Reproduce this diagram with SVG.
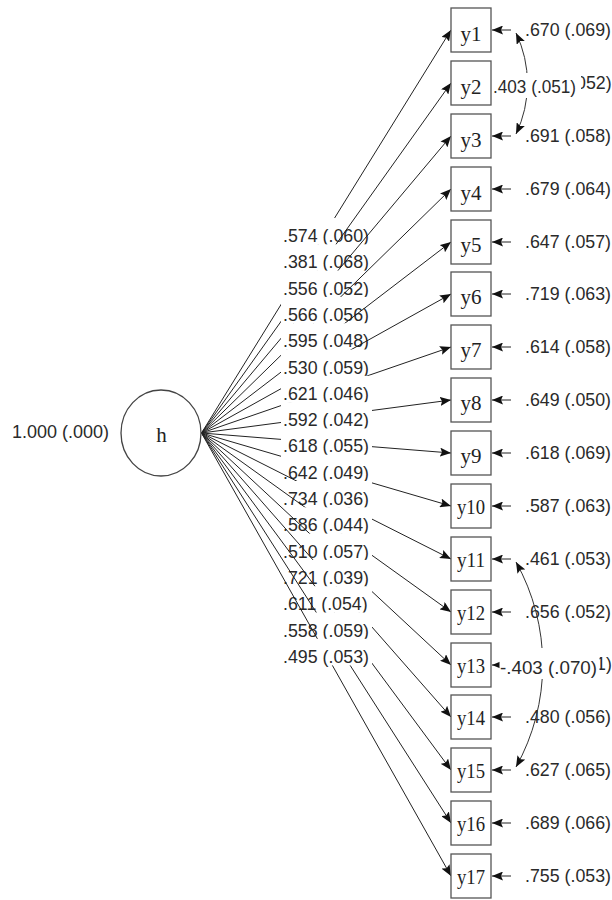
<svg xmlns="http://www.w3.org/2000/svg" width="612" height="900" viewBox="0 0 612 900">
<defs>
<marker id="ah" markerUnits="userSpaceOnUse" markerWidth="11" markerHeight="9" refX="11" refY="4.5" orient="auto-start-reverse" viewBox="0 0 11 9">
<path d="M0,0 L11,4.5 L0,9 L2,4.5 z" fill="#111"/>
</marker>
</defs>
<style>
.ln{stroke:#222;stroke-width:1;fill:none;marker-end:url(#ah)}
.arc{stroke:#333;stroke-width:1;fill:none;marker-start:url(#ah);marker-end:url(#ah)}
.bg{fill:#fff}
.num{font-family:"Liberation Sans",Arial,sans-serif;font-size:17.8px;fill:#2a2a2a}
.box{fill:#fff;stroke:#555;stroke-width:1.3}
.lab{font-family:"Liberation Serif","Times New Roman",serif;font-size:21px;fill:#222;text-anchor:middle}
</style>
<rect width="612" height="900" fill="#fff"/>
<g id="connectors">
<g id="loadings">
<g><line class="ln" x1="201.5" y1="433" x2="451" y2="30"/><rect class="bg" x="281" y="218" width="91" height="26.6"/><text class="num" x="283" y="242">.574 (.060)</text></g>
<g><line class="ln" x1="201.5" y1="433" x2="451" y2="83"/><rect class="bg" x="281" y="244.3" width="91" height="26.6"/><text class="num" x="283" y="268.3">.381 (.068)</text></g>
<g><line class="ln" x1="201.5" y1="433" x2="451" y2="136"/><rect class="bg" x="281" y="270.6" width="91" height="26.6"/><text class="num" x="283" y="294.6">.556 (.052)</text></g>
<g><line class="ln" x1="201.5" y1="433" x2="451" y2="189"/><rect class="bg" x="281" y="296.9" width="91" height="26.6"/><text class="num" x="283" y="320.9">.566 (.056)</text></g>
<g><line class="ln" x1="201.5" y1="433" x2="451" y2="242"/><rect class="bg" x="281" y="323.2" width="91" height="26.6"/><text class="num" x="283" y="347.2">.595 (.048)</text></g>
<g><line class="ln" x1="201.5" y1="433" x2="451" y2="294"/><rect class="bg" x="281" y="349.5" width="91" height="26.6"/><text class="num" x="283" y="373.5">.530 (.059)</text></g>
<g><line class="ln" x1="201.5" y1="433" x2="451" y2="347"/><rect class="bg" x="281" y="375.8" width="91" height="26.6"/><text class="num" x="283" y="399.8">.621 (.046)</text></g>
<g><line class="ln" x1="201.5" y1="433" x2="451" y2="400"/><rect class="bg" x="281" y="402.1" width="91" height="26.6"/><text class="num" x="283" y="426.1">.592 (.042)</text></g>
<g><line class="ln" x1="201.5" y1="433" x2="451" y2="453"/><rect class="bg" x="281" y="428.4" width="91" height="26.6"/><text class="num" x="283" y="452.4">.618 (.055)</text></g>
<g><line class="ln" x1="201.5" y1="433" x2="451" y2="506"/><rect class="bg" x="281" y="454.7" width="91" height="26.6"/><text class="num" x="283" y="478.7">.642 (.049)</text></g>
<g><line class="ln" x1="201.5" y1="433" x2="451" y2="559"/><rect class="bg" x="281" y="481" width="91" height="26.6"/><text class="num" x="283" y="505">.734 (.036)</text></g>
<g><line class="ln" x1="201.5" y1="433" x2="451" y2="612"/><rect class="bg" x="281" y="507.3" width="91" height="26.6"/><text class="num" x="283" y="531.3">.586 (.044)</text></g>
<g><line class="ln" x1="201.5" y1="433" x2="451" y2="665"/><rect class="bg" x="281" y="533.6" width="91" height="26.6"/><text class="num" x="283" y="557.6">.510 (.057)</text></g>
<g><line class="ln" x1="201.5" y1="433" x2="451" y2="717"/><rect class="bg" x="281" y="559.9" width="91" height="26.6"/><text class="num" x="283" y="583.9">.721 (.039)</text></g>
<g><line class="ln" x1="201.5" y1="433" x2="451" y2="770"/><rect class="bg" x="281" y="586.2" width="91" height="26.6"/><text class="num" x="283" y="610.2">.611 (.054)</text></g>
<g><line class="ln" x1="201.5" y1="433" x2="451" y2="823"/><rect class="bg" x="281" y="612.5" width="91" height="26.6"/><text class="num" x="283" y="636.5">.558 (.059)</text></g>
<g><line class="ln" x1="201.5" y1="433" x2="451" y2="876"/><rect class="bg" x="281" y="638.8" width="91" height="26.6"/><text class="num" x="283" y="662.8">.495 (.053)</text></g>
</g>
<g id="residuals">
<line class="ln" x1="511" y1="30" x2="492" y2="30"/>
<line class="ln" x1="511" y1="83" x2="492" y2="83"/>
<line class="ln" x1="511" y1="136" x2="492" y2="136"/>
<line class="ln" x1="511" y1="189" x2="492" y2="189"/>
<line class="ln" x1="511" y1="242" x2="492" y2="242"/>
<line class="ln" x1="511" y1="294" x2="492" y2="294"/>
<line class="ln" x1="511" y1="347" x2="492" y2="347"/>
<line class="ln" x1="511" y1="400" x2="492" y2="400"/>
<line class="ln" x1="511" y1="453" x2="492" y2="453"/>
<line class="ln" x1="511" y1="506" x2="492" y2="506"/>
<line class="ln" x1="511" y1="559" x2="492" y2="559"/>
<line class="ln" x1="511" y1="612" x2="492" y2="612"/>
<line class="ln" x1="511" y1="665" x2="492" y2="665"/>
<line class="ln" x1="511" y1="717" x2="492" y2="717"/>
<line class="ln" x1="511" y1="770" x2="492" y2="770"/>
<line class="ln" x1="511" y1="823" x2="492" y2="823"/>
<line class="ln" x1="511" y1="876" x2="492" y2="876"/>
<text class="num" x="525" y="36">.670 (.069)</text>
<text class="num" x="576" y="89">052)</text>
<text class="num" x="525" y="142">.691 (.058)</text>
<text class="num" x="525" y="195">.679 (.064)</text>
<text class="num" x="525" y="248">.647 (.057)</text>
<text class="num" x="525" y="300">.719 (.063)</text>
<text class="num" x="525" y="353">.614 (.058)</text>
<text class="num" x="525" y="406">.649 (.050)</text>
<text class="num" x="525" y="459">.618 (.069)</text>
<text class="num" x="525" y="512">.587 (.063)</text>
<text class="num" x="525" y="565">.461 (.053)</text>
<text class="num" x="525" y="618">.656 (.052)</text>
<text class="num" x="596" y="670">1)</text>
<text class="num" x="525" y="723">.480 (.056)</text>
<text class="num" x="525" y="776">.627 (.065)</text>
<text class="num" x="525" y="829">.689 (.066)</text>
<text class="num" x="525" y="882">.755 (.053)</text>
</g>
<g id="covariances">
<path class="arc" d="M516,33 A117,117 0 0 1 516,134"/>
<rect class="bg" x="492" y="73" width="89" height="25"/>
<text class="num" x="493" y="93" textLength="83" lengthAdjust="spacingAndGlyphs">.403 (.051)</text>
<path class="arc" d="M516,562 A210,210 0 0 1 516,767"/>
<rect class="bg" x="499.5" y="648" width="100" height="31"/>
<text class="num" x="500" y="674" textLength="97" lengthAdjust="spacingAndGlyphs">-.403 (.070)</text>
</g>
</g>
<g id="node-h">
<ellipse cx="161" cy="433" rx="40" ry="43" fill="#fff" stroke="#444" stroke-width="1.3"/>
<text class="lab" x="161.5" y="442">h</text>
<text class="num" x="12" y="438" style="font-size:18px">1.000 (.000)</text>
</g>
<g id="node-y1"><rect class="box" x="451" y="8" width="40" height="44"/><text class="lab" x="471" y="41">y1</text></g>
<g id="node-y2"><rect class="box" x="451" y="61" width="40" height="44"/><text class="lab" x="471" y="94">y2</text></g>
<g id="node-y3"><rect class="box" x="451" y="114" width="40" height="44"/><text class="lab" x="471" y="147">y3</text></g>
<g id="node-y4"><rect class="box" x="451" y="167" width="40" height="44"/><text class="lab" x="471" y="200">y4</text></g>
<g id="node-y5"><rect class="box" x="451" y="220" width="40" height="44"/><text class="lab" x="471" y="252">y5</text></g>
<g id="node-y6"><rect class="box" x="451" y="272" width="40" height="44"/><text class="lab" x="471" y="304">y6</text></g>
<g id="node-y7"><rect class="box" x="451" y="325" width="40" height="44"/><text class="lab" x="471" y="357">y7</text></g>
<g id="node-y8"><rect class="box" x="451" y="378" width="40" height="44"/><text class="lab" x="471" y="410">y8</text></g>
<g id="node-y9"><rect class="box" x="451" y="431" width="40" height="44"/><text class="lab" x="471" y="463">y9</text></g>
<g id="node-y10"><rect class="box" x="451" y="484" width="40" height="44"/><text class="lab" x="471" y="514" textLength="28" lengthAdjust="spacingAndGlyphs">y10</text></g>
<g id="node-y11"><rect class="box" x="451" y="537" width="40" height="44"/><text class="lab" x="471" y="567" textLength="28" lengthAdjust="spacingAndGlyphs">y11</text></g>
<g id="node-y12"><rect class="box" x="451" y="590" width="40" height="44"/><text class="lab" x="471" y="620" textLength="28" lengthAdjust="spacingAndGlyphs">y12</text></g>
<g id="node-y13"><rect class="box" x="451" y="643" width="40" height="44"/><text class="lab" x="471" y="673" textLength="28" lengthAdjust="spacingAndGlyphs">y13</text></g>
<g id="node-y14"><rect class="box" x="451" y="695" width="40" height="44"/><text class="lab" x="471" y="725" textLength="28" lengthAdjust="spacingAndGlyphs">y14</text></g>
<g id="node-y15"><rect class="box" x="451" y="748" width="40" height="44"/><text class="lab" x="471" y="778" textLength="28" lengthAdjust="spacingAndGlyphs">y15</text></g>
<g id="node-y16"><rect class="box" x="451" y="801" width="40" height="44"/><text class="lab" x="471" y="831" textLength="28" lengthAdjust="spacingAndGlyphs">y16</text></g>
<g id="node-y17"><rect class="box" x="451" y="854" width="40" height="44"/><text class="lab" x="471" y="884" textLength="28" lengthAdjust="spacingAndGlyphs">y17</text></g>
</svg>
